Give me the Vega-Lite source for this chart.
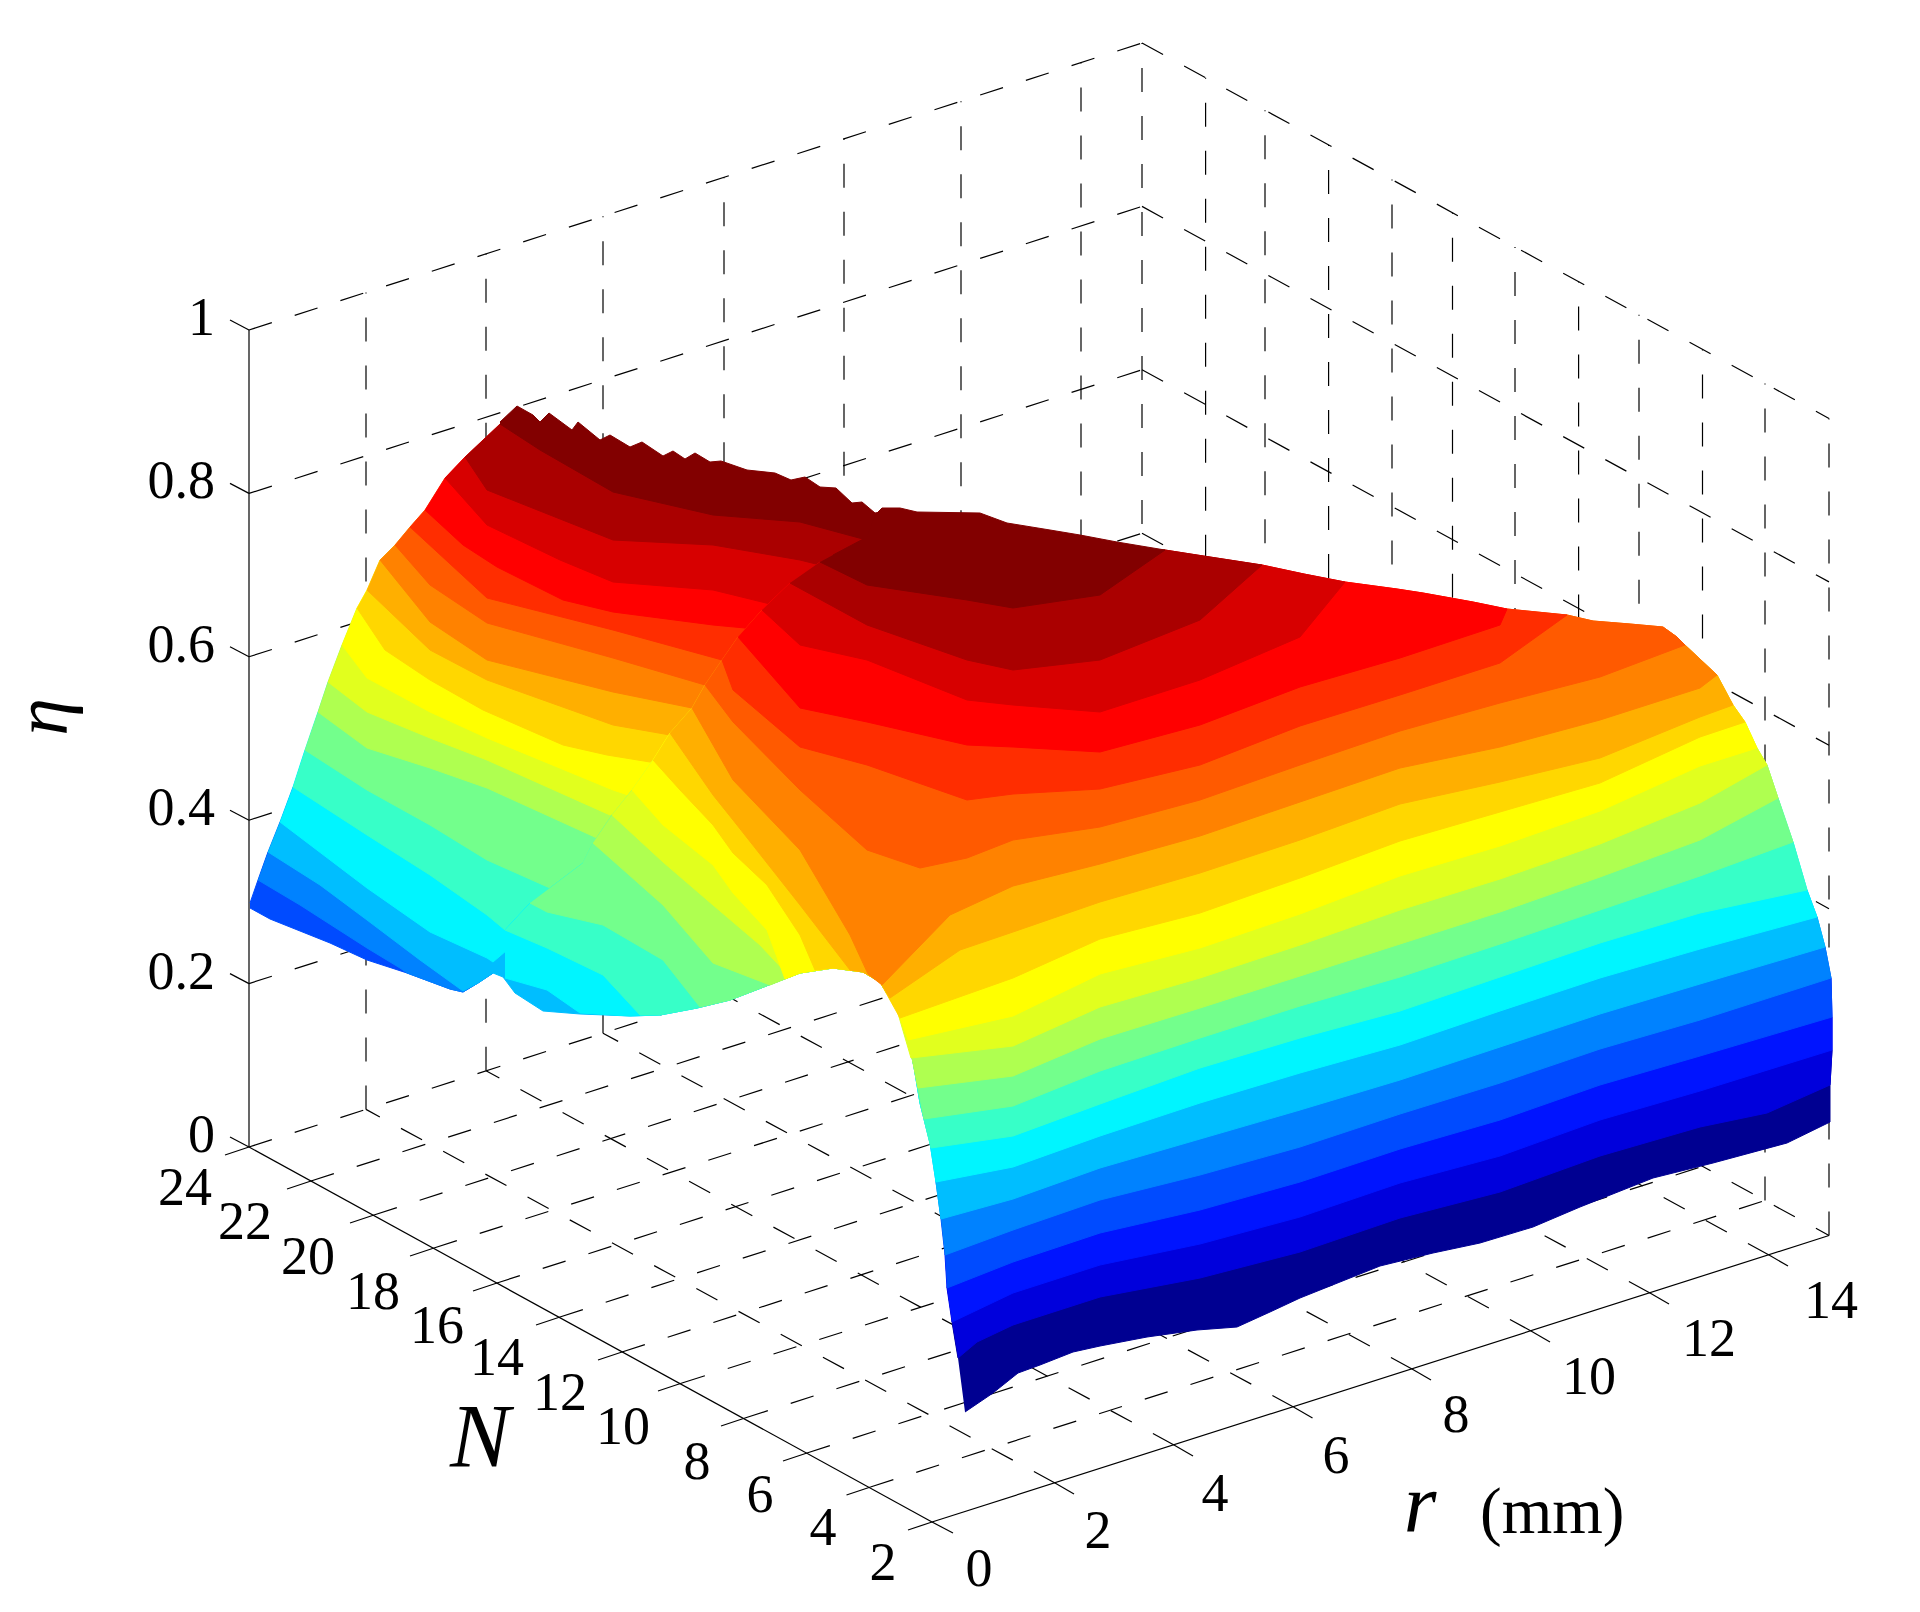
{"$schema":"https://vega.github.io/schema/vega-lite/v6.json","width":1920,"height":1612,"padding":0,"autosize":"none","background":"white","config":{"view":{"stroke":null}},
"datasets":{
"surface":[
{"f":"L","l":3,"x":250,"y":908},{"f":"L","l":3,"x":270,"y":919},{"f":"L","l":3,"x":330,"y":943},{"f":"L","l":3,"x":367,"y":960},{"f":"L","l":3,"x":407,"y":973},{"f":"L","l":3,"x":450,"y":989},{"f":"L","l":3,"x":463,"y":992},{"f":"L","l":3,"x":478,"y":983},{"f":"L","l":3,"x":493,"y":973},{"f":"L","l":3,"x":800,"y":700},{"f":"L","l":3,"x":860,"y":545},{"f":"L","l":3,"x":268,"y":852},{"f":"L","l":3,"x":258,"y":880},{"f":"L","l":3,"x":250,"y":903},
{"f":"L","l":4,"x":258,"y":880},{"f":"L","l":4,"x":300,"y":905},{"f":"L","l":4,"x":367,"y":948},{"f":"L","l":4,"x":400,"y":968},{"f":"L","l":4,"x":407,"y":973},{"f":"L","l":4,"x":450,"y":989},{"f":"L","l":4,"x":463,"y":992},{"f":"L","l":4,"x":478,"y":983},{"f":"L","l":4,"x":493,"y":973},{"f":"L","l":4,"x":800,"y":700},{"f":"L","l":4,"x":860,"y":545},{"f":"L","l":4,"x":280,"y":822},{"f":"L","l":4,"x":268,"y":852},
{"f":"L","l":5,"x":268,"y":852},{"f":"L","l":5,"x":320,"y":885},{"f":"L","l":5,"x":367,"y":920},{"f":"L","l":5,"x":420,"y":960},{"f":"L","l":5,"x":463,"y":991},{"f":"L","l":5,"x":478,"y":983},{"f":"L","l":5,"x":493,"y":973},{"f":"L","l":5,"x":800,"y":700},{"f":"L","l":5,"x":860,"y":545},{"f":"L","l":5,"x":293,"y":787},{"f":"L","l":5,"x":280,"y":822},
{"f":"L","l":6,"x":280,"y":822},{"f":"L","l":6,"x":367,"y":888},{"f":"L","l":6,"x":430,"y":932},{"f":"L","l":6,"x":487,"y":958},{"f":"L","l":6,"x":493,"y":962},{"f":"L","l":6,"x":800,"y":700},{"f":"L","l":6,"x":860,"y":545},{"f":"L","l":6,"x":305,"y":750},{"f":"L","l":6,"x":293,"y":787},
{"f":"L","l":7,"x":293,"y":787},{"f":"L","l":7,"x":367,"y":835},{"f":"L","l":7,"x":430,"y":875},{"f":"L","l":7,"x":487,"y":915},{"f":"L","l":7,"x":505,"y":930},{"f":"L","l":7,"x":800,"y":700},{"f":"L","l":7,"x":860,"y":545},{"f":"L","l":7,"x":318,"y":712},{"f":"L","l":7,"x":305,"y":750},
{"f":"L","l":8,"x":305,"y":750},{"f":"L","l":8,"x":367,"y":790},{"f":"L","l":8,"x":430,"y":825},{"f":"L","l":8,"x":487,"y":860},{"f":"L","l":8,"x":550,"y":888},{"f":"L","l":8,"x":800,"y":700},{"f":"L","l":8,"x":860,"y":545},{"f":"L","l":8,"x":328,"y":682},{"f":"L","l":8,"x":318,"y":712},
{"f":"L","l":9,"x":318,"y":712},{"f":"L","l":9,"x":367,"y":748},{"f":"L","l":9,"x":430,"y":768},{"f":"L","l":9,"x":487,"y":788},{"f":"L","l":9,"x":597,"y":838},{"f":"L","l":9,"x":800,"y":700},{"f":"L","l":9,"x":860,"y":545},{"f":"L","l":9,"x":342,"y":645},{"f":"L","l":9,"x":328,"y":682},
{"f":"L","l":10,"x":328,"y":682},{"f":"L","l":10,"x":367,"y":712},{"f":"L","l":10,"x":430,"y":738},{"f":"L","l":10,"x":487,"y":760},{"f":"L","l":10,"x":610,"y":815},{"f":"L","l":10,"x":800,"y":700},{"f":"L","l":10,"x":860,"y":545},{"f":"L","l":10,"x":357,"y":608},{"f":"L","l":10,"x":342,"y":645},
{"f":"L","l":11,"x":342,"y":645},{"f":"L","l":11,"x":367,"y":678},{"f":"L","l":11,"x":430,"y":712},{"f":"L","l":11,"x":487,"y":738},{"f":"L","l":11,"x":613,"y":790},{"f":"L","l":11,"x":628,"y":795},{"f":"L","l":11,"x":800,"y":700},{"f":"L","l":11,"x":860,"y":545},{"f":"L","l":11,"x":367,"y":590},{"f":"L","l":11,"x":357,"y":608},
{"f":"L","l":12,"x":357,"y":608},{"f":"L","l":12,"x":385,"y":650},{"f":"L","l":12,"x":430,"y":680},{"f":"L","l":12,"x":483,"y":710},{"f":"L","l":12,"x":563,"y":745},{"f":"L","l":12,"x":607,"y":755},{"f":"L","l":12,"x":650,"y":762},{"f":"L","l":12,"x":800,"y":700},{"f":"L","l":12,"x":860,"y":545},{"f":"L","l":12,"x":380,"y":560},{"f":"L","l":12,"x":367,"y":590},
{"f":"L","l":13,"x":367,"y":590},{"f":"L","l":13,"x":430,"y":650},{"f":"L","l":13,"x":487,"y":680},{"f":"L","l":13,"x":613,"y":725},{"f":"L","l":13,"x":670,"y":735},{"f":"L","l":13,"x":800,"y":700},{"f":"L","l":13,"x":860,"y":545},{"f":"L","l":13,"x":395,"y":545},{"f":"L","l":13,"x":380,"y":560},
{"f":"L","l":14,"x":380,"y":560},{"f":"L","l":14,"x":430,"y":622},{"f":"L","l":14,"x":487,"y":660},{"f":"L","l":14,"x":613,"y":692},{"f":"L","l":14,"x":692,"y":708},{"f":"L","l":14,"x":800,"y":700},{"f":"L","l":14,"x":860,"y":545},{"f":"L","l":14,"x":410,"y":527},{"f":"L","l":14,"x":395,"y":545},
{"f":"L","l":15,"x":395,"y":545},{"f":"L","l":15,"x":430,"y":585},{"f":"L","l":15,"x":487,"y":623},{"f":"L","l":15,"x":613,"y":658},{"f":"L","l":15,"x":705,"y":685},{"f":"L","l":15,"x":800,"y":700},{"f":"L","l":15,"x":860,"y":545},{"f":"L","l":15,"x":425,"y":510},{"f":"L","l":15,"x":410,"y":527},
{"f":"L","l":16,"x":410,"y":527},{"f":"L","l":16,"x":487,"y":598},{"f":"L","l":16,"x":613,"y":630},{"f":"L","l":16,"x":722,"y":660},{"f":"L","l":16,"x":800,"y":700},{"f":"L","l":16,"x":860,"y":545},{"f":"L","l":16,"x":445,"y":478},{"f":"L","l":16,"x":425,"y":510},
{"f":"L","l":17,"x":425,"y":510},{"f":"L","l":17,"x":463,"y":545},{"f":"L","l":17,"x":497,"y":567},{"f":"L","l":17,"x":563,"y":600},{"f":"L","l":17,"x":613,"y":612},{"f":"L","l":17,"x":713,"y":625},{"f":"L","l":17,"x":745,"y":628},{"f":"L","l":17,"x":800,"y":700},{"f":"L","l":17,"x":860,"y":545},{"f":"L","l":17,"x":465,"y":457},{"f":"L","l":17,"x":445,"y":478},
{"f":"L","l":18,"x":445,"y":478},{"f":"L","l":18,"x":487,"y":525},{"f":"L","l":18,"x":560,"y":560},{"f":"L","l":18,"x":613,"y":582},{"f":"L","l":18,"x":713,"y":590},{"f":"L","l":18,"x":770,"y":604},{"f":"L","l":18,"x":800,"y":700},{"f":"L","l":18,"x":860,"y":545},{"f":"L","l":18,"x":500,"y":424},{"f":"L","l":18,"x":465,"y":457},
{"f":"L","l":19,"x":465,"y":457},{"f":"L","l":19,"x":487,"y":490},{"f":"L","l":19,"x":613,"y":540},{"f":"L","l":19,"x":713,"y":545},{"f":"L","l":19,"x":800,"y":560},{"f":"L","l":19,"x":840,"y":570},{"f":"L","l":19,"x":885,"y":545},{"f":"L","l":19,"x":800,"y":510},{"f":"L","l":19,"x":713,"y":505},{"f":"L","l":19,"x":613,"y":482},{"f":"L","l":19,"x":540,"y":443},{"f":"L","l":19,"x":500,"y":424},
{"f":"L","l":20,"x":500,"y":424},{"f":"L","l":20,"x":540,"y":450},{"f":"L","l":20,"x":613,"y":492},{"f":"L","l":20,"x":713,"y":515},{"f":"L","l":20,"x":800,"y":522},{"f":"L","l":20,"x":885,"y":545},{"f":"L","l":20,"x":880,"y":512},{"f":"L","l":20,"x":875,"y":513},{"f":"L","l":20,"x":862,"y":502},{"f":"L","l":20,"x":852,"y":503},{"f":"L","l":20,"x":836,"y":488},{"f":"L","l":20,"x":820,"y":487},{"f":"L","l":20,"x":805,"y":477},{"f":"L","l":20,"x":791,"y":480},{"f":"L","l":20,"x":775,"y":473},{"f":"L","l":20,"x":747,"y":470},{"f":"L","l":20,"x":721,"y":461},{"f":"L","l":20,"x":710,"y":462},{"f":"L","l":20,"x":695,"y":453},{"f":"L","l":20,"x":685,"y":459},{"f":"L","l":20,"x":673,"y":451},{"f":"L","l":20,"x":663,"y":456},{"f":"L","l":20,"x":642,"y":442},{"f":"L","l":20,"x":630,"y":447},{"f":"L","l":20,"x":610,"y":435},{"f":"L","l":20,"x":600,"y":440},{"f":"L","l":20,"x":578,"y":422},{"f":"L","l":20,"x":572,"y":430},{"f":"L","l":20,"x":549,"y":413},{"f":"L","l":20,"x":540,"y":422},{"f":"L","l":20,"x":533,"y":415},{"f":"L","l":20,"x":517,"y":406},{"f":"L","l":20,"x":500,"y":422},
{"f":"R","l":0,"x":965,"y":1412},{"f":"R","l":0,"x":993,"y":1393},{"f":"R","l":0,"x":1018,"y":1373},{"f":"R","l":0,"x":1040,"y":1365},{"f":"R","l":0,"x":1073,"y":1352},{"f":"R","l":0,"x":1100,"y":1346},{"f":"R","l":0,"x":1147,"y":1337},{"f":"R","l":0,"x":1197,"y":1330},{"f":"R","l":0,"x":1237,"y":1327},{"f":"R","l":0,"x":1270,"y":1312},{"f":"R","l":0,"x":1300,"y":1298},{"f":"R","l":0,"x":1380,"y":1266},{"f":"R","l":0,"x":1433,"y":1253},{"f":"R","l":0,"x":1480,"y":1243},{"f":"R","l":0,"x":1533,"y":1227},{"f":"R","l":0,"x":1580,"y":1207},{"f":"R","l":0,"x":1653,"y":1178},{"f":"R","l":0,"x":1713,"y":1163},{"f":"R","l":0,"x":1787,"y":1143},{"f":"R","l":0,"x":1830,"y":1122},{"f":"R","l":0,"x":1830,"y":1085},{"f":"R","l":0,"x":1832,"y":1050},{"f":"R","l":0,"x":1000,"y":900},{"f":"R","l":0,"x":952,"y":1322},{"f":"R","l":0,"x":958,"y":1358},
{"f":"R","l":1,"x":958,"y":1358},{"f":"R","l":1,"x":977,"y":1342},{"f":"R","l":1,"x":1013,"y":1325},{"f":"R","l":1,"x":1100,"y":1297},{"f":"R","l":1,"x":1200,"y":1278},{"f":"R","l":1,"x":1300,"y":1252},{"f":"R","l":1,"x":1400,"y":1218},{"f":"R","l":1,"x":1500,"y":1192},{"f":"R","l":1,"x":1600,"y":1156},{"f":"R","l":1,"x":1700,"y":1127},{"f":"R","l":1,"x":1767,"y":1113},{"f":"R","l":1,"x":1830,"y":1085},{"f":"R","l":1,"x":1832,"y":1050},{"f":"R","l":1,"x":1832,"y":1017},{"f":"R","l":1,"x":1000,"y":900},{"f":"R","l":1,"x":947,"y":1288},{"f":"R","l":1,"x":952,"y":1322},
{"f":"R","l":2,"x":952,"y":1322},{"f":"R","l":2,"x":1013,"y":1293},{"f":"R","l":2,"x":1100,"y":1265},{"f":"R","l":2,"x":1200,"y":1244},{"f":"R","l":2,"x":1300,"y":1217},{"f":"R","l":2,"x":1400,"y":1183},{"f":"R","l":2,"x":1500,"y":1156},{"f":"R","l":2,"x":1600,"y":1120},{"f":"R","l":2,"x":1700,"y":1091},{"f":"R","l":2,"x":1832,"y":1050},{"f":"R","l":2,"x":1832,"y":1017},{"f":"R","l":2,"x":1831,"y":978},{"f":"R","l":2,"x":1000,"y":900},{"f":"R","l":2,"x":945,"y":1255},{"f":"R","l":2,"x":947,"y":1288},
{"f":"R","l":3,"x":947,"y":1288},{"f":"R","l":3,"x":1013,"y":1262},{"f":"R","l":3,"x":1100,"y":1233},{"f":"R","l":3,"x":1200,"y":1210},{"f":"R","l":3,"x":1300,"y":1182},{"f":"R","l":3,"x":1400,"y":1149},{"f":"R","l":3,"x":1500,"y":1120},{"f":"R","l":3,"x":1600,"y":1085},{"f":"R","l":3,"x":1700,"y":1056},{"f":"R","l":3,"x":1832,"y":1017},{"f":"R","l":3,"x":1831,"y":978},{"f":"R","l":3,"x":1825,"y":947},{"f":"R","l":3,"x":1000,"y":900},{"f":"R","l":3,"x":941,"y":1219},{"f":"R","l":3,"x":945,"y":1255},
{"f":"R","l":4,"x":945,"y":1255},{"f":"R","l":4,"x":1013,"y":1230},{"f":"R","l":4,"x":1100,"y":1200},{"f":"R","l":4,"x":1200,"y":1175},{"f":"R","l":4,"x":1300,"y":1147},{"f":"R","l":4,"x":1400,"y":1114},{"f":"R","l":4,"x":1500,"y":1083},{"f":"R","l":4,"x":1600,"y":1049},{"f":"R","l":4,"x":1700,"y":1020},{"f":"R","l":4,"x":1831,"y":978},{"f":"R","l":4,"x":1825,"y":947},{"f":"R","l":4,"x":1817,"y":917},{"f":"R","l":4,"x":1000,"y":900},{"f":"R","l":4,"x":936,"y":1182},{"f":"R","l":4,"x":941,"y":1219},
{"f":"R","l":5,"x":493,"y":973},{"f":"R","l":5,"x":503,"y":977},{"f":"R","l":5,"x":515,"y":993},{"f":"R","l":5,"x":543,"y":1011},{"f":"R","l":5,"x":580,"y":1014},{"f":"R","l":5,"x":630,"y":1016},{"f":"R","l":5,"x":660,"y":1015},{"f":"R","l":5,"x":697,"y":1008},{"f":"R","l":5,"x":730,"y":1000},{"f":"R","l":5,"x":800,"y":973},{"f":"R","l":5,"x":833,"y":968},{"f":"R","l":5,"x":863,"y":972},{"f":"R","l":5,"x":880,"y":982},{"f":"R","l":5,"x":897,"y":1010},{"f":"R","l":5,"x":908,"y":1038},{"f":"R","l":5,"x":914,"y":1067},{"f":"R","l":5,"x":920,"y":1103},{"f":"R","l":5,"x":930,"y":1143},{"f":"R","l":5,"x":936,"y":1182},{"f":"R","l":5,"x":941,"y":1219},{"f":"R","l":5,"x":1013,"y":1199},{"f":"R","l":5,"x":1100,"y":1168},{"f":"R","l":5,"x":1200,"y":1139},{"f":"R","l":5,"x":1300,"y":1110},{"f":"R","l":5,"x":1400,"y":1080},{"f":"R","l":5,"x":1500,"y":1047},{"f":"R","l":5,"x":1600,"y":1014},{"f":"R","l":5,"x":1700,"y":984},{"f":"R","l":5,"x":1825,"y":947},{"f":"R","l":5,"x":1817,"y":917},{"f":"R","l":5,"x":1807,"y":890},{"f":"R","l":5,"x":1000,"y":680},{"f":"R","l":5,"x":510,"y":950},
{"f":"R","l":6,"x":505,"y":978},{"f":"R","l":6,"x":547,"y":990},{"f":"R","l":6,"x":580,"y":1013},{"f":"R","l":6,"x":630,"y":1016},{"f":"R","l":6,"x":660,"y":1015},{"f":"R","l":6,"x":697,"y":1008},{"f":"R","l":6,"x":730,"y":1000},{"f":"R","l":6,"x":800,"y":973},{"f":"R","l":6,"x":833,"y":968},{"f":"R","l":6,"x":863,"y":972},{"f":"R","l":6,"x":880,"y":982},{"f":"R","l":6,"x":897,"y":1010},{"f":"R","l":6,"x":908,"y":1038},{"f":"R","l":6,"x":914,"y":1067},{"f":"R","l":6,"x":920,"y":1103},{"f":"R","l":6,"x":930,"y":1143},{"f":"R","l":6,"x":936,"y":1182},{"f":"R","l":6,"x":1013,"y":1167},{"f":"R","l":6,"x":1100,"y":1136},{"f":"R","l":6,"x":1200,"y":1103},{"f":"R","l":6,"x":1300,"y":1073},{"f":"R","l":6,"x":1400,"y":1045},{"f":"R","l":6,"x":1500,"y":1011},{"f":"R","l":6,"x":1600,"y":978},{"f":"R","l":6,"x":1700,"y":949},{"f":"R","l":6,"x":1817,"y":917},{"f":"R","l":6,"x":1807,"y":890},{"f":"R","l":6,"x":1793,"y":842},{"f":"R","l":6,"x":1000,"y":680},{"f":"R","l":6,"x":530,"y":903},{"f":"R","l":6,"x":505,"y":930},
{"f":"R","l":7,"x":505,"y":930},{"f":"R","l":7,"x":547,"y":948},{"f":"R","l":7,"x":603,"y":975},{"f":"R","l":7,"x":640,"y":1015},{"f":"R","l":7,"x":660,"y":1015},{"f":"R","l":7,"x":697,"y":1008},{"f":"R","l":7,"x":730,"y":1000},{"f":"R","l":7,"x":800,"y":973},{"f":"R","l":7,"x":833,"y":968},{"f":"R","l":7,"x":863,"y":972},{"f":"R","l":7,"x":880,"y":982},{"f":"R","l":7,"x":897,"y":1010},{"f":"R","l":7,"x":908,"y":1038},{"f":"R","l":7,"x":914,"y":1067},{"f":"R","l":7,"x":920,"y":1103},{"f":"R","l":7,"x":931,"y":1148},{"f":"R","l":7,"x":1013,"y":1136},{"f":"R","l":7,"x":1100,"y":1104},{"f":"R","l":7,"x":1200,"y":1068},{"f":"R","l":7,"x":1300,"y":1038},{"f":"R","l":7,"x":1400,"y":1011},{"f":"R","l":7,"x":1500,"y":977},{"f":"R","l":7,"x":1600,"y":943},{"f":"R","l":7,"x":1700,"y":913},{"f":"R","l":7,"x":1807,"y":890},{"f":"R","l":7,"x":1793,"y":842},{"f":"R","l":7,"x":1778,"y":798},{"f":"R","l":7,"x":1000,"y":680},{"f":"R","l":7,"x":593,"y":843},{"f":"R","l":7,"x":583,"y":863},{"f":"R","l":7,"x":530,"y":903},
{"f":"R","l":8,"x":530,"y":903},{"f":"R","l":8,"x":547,"y":912},{"f":"R","l":8,"x":603,"y":925},{"f":"R","l":8,"x":663,"y":960},{"f":"R","l":8,"x":700,"y":1007},{"f":"R","l":8,"x":730,"y":1000},{"f":"R","l":8,"x":800,"y":973},{"f":"R","l":8,"x":833,"y":968},{"f":"R","l":8,"x":863,"y":972},{"f":"R","l":8,"x":880,"y":982},{"f":"R","l":8,"x":897,"y":1010},{"f":"R","l":8,"x":908,"y":1038},{"f":"R","l":8,"x":914,"y":1067},{"f":"R","l":8,"x":924,"y":1119},{"f":"R","l":8,"x":1013,"y":1106},{"f":"R","l":8,"x":1100,"y":1071},{"f":"R","l":8,"x":1200,"y":1038},{"f":"R","l":8,"x":1300,"y":1006},{"f":"R","l":8,"x":1400,"y":977},{"f":"R","l":8,"x":1500,"y":944},{"f":"R","l":8,"x":1600,"y":910},{"f":"R","l":8,"x":1700,"y":876},{"f":"R","l":8,"x":1793,"y":842},{"f":"R","l":8,"x":1778,"y":798},{"f":"R","l":8,"x":1767,"y":765},{"f":"R","l":8,"x":1000,"y":680},{"f":"R","l":8,"x":612,"y":815},{"f":"R","l":8,"x":593,"y":843},{"f":"R","l":8,"x":583,"y":863},
{"f":"R","l":9,"x":593,"y":843},{"f":"R","l":9,"x":663,"y":905},{"f":"R","l":9,"x":713,"y":963},{"f":"R","l":9,"x":770,"y":985},{"f":"R","l":9,"x":800,"y":973},{"f":"R","l":9,"x":833,"y":968},{"f":"R","l":9,"x":863,"y":972},{"f":"R","l":9,"x":880,"y":982},{"f":"R","l":9,"x":897,"y":1010},{"f":"R","l":9,"x":908,"y":1038},{"f":"R","l":9,"x":918,"y":1088},{"f":"R","l":9,"x":1013,"y":1076},{"f":"R","l":9,"x":1100,"y":1039},{"f":"R","l":9,"x":1200,"y":1008},{"f":"R","l":9,"x":1300,"y":976},{"f":"R","l":9,"x":1400,"y":944},{"f":"R","l":9,"x":1500,"y":912},{"f":"R","l":9,"x":1600,"y":877},{"f":"R","l":9,"x":1700,"y":840},{"f":"R","l":9,"x":1778,"y":798},{"f":"R","l":9,"x":1767,"y":765},{"f":"R","l":9,"x":1757,"y":748},{"f":"R","l":9,"x":1000,"y":680},{"f":"R","l":9,"x":632,"y":790},{"f":"R","l":9,"x":612,"y":815},
{"f":"R","l":10,"x":612,"y":815},{"f":"R","l":10,"x":663,"y":862},{"f":"R","l":10,"x":713,"y":905},{"f":"R","l":10,"x":760,"y":945},{"f":"R","l":10,"x":790,"y":977},{"f":"R","l":10,"x":800,"y":973},{"f":"R","l":10,"x":833,"y":968},{"f":"R","l":10,"x":863,"y":972},{"f":"R","l":10,"x":880,"y":982},{"f":"R","l":10,"x":897,"y":1010},{"f":"R","l":10,"x":911,"y":1058},{"f":"R","l":10,"x":1013,"y":1046},{"f":"R","l":10,"x":1100,"y":1007},{"f":"R","l":10,"x":1200,"y":978},{"f":"R","l":10,"x":1300,"y":945},{"f":"R","l":10,"x":1400,"y":910},{"f":"R","l":10,"x":1500,"y":879},{"f":"R","l":10,"x":1600,"y":844},{"f":"R","l":10,"x":1700,"y":803},{"f":"R","l":10,"x":1767,"y":765},{"f":"R","l":10,"x":1757,"y":748},{"f":"R","l":10,"x":1745,"y":722},{"f":"R","l":10,"x":1000,"y":680},{"f":"R","l":10,"x":653,"y":760},{"f":"R","l":10,"x":632,"y":790},
{"f":"R","l":11,"x":632,"y":790},{"f":"R","l":11,"x":663,"y":825},{"f":"R","l":11,"x":713,"y":865},{"f":"R","l":11,"x":733,"y":893},{"f":"R","l":11,"x":767,"y":930},{"f":"R","l":11,"x":785,"y":979},{"f":"R","l":11,"x":800,"y":973},{"f":"R","l":11,"x":833,"y":968},{"f":"R","l":11,"x":863,"y":972},{"f":"R","l":11,"x":880,"y":982},{"f":"R","l":11,"x":897,"y":1010},{"f":"R","l":11,"x":908,"y":1040},{"f":"R","l":11,"x":1013,"y":1016},{"f":"R","l":11,"x":1100,"y":974},{"f":"R","l":11,"x":1200,"y":948},{"f":"R","l":11,"x":1300,"y":914},{"f":"R","l":11,"x":1400,"y":876},{"f":"R","l":11,"x":1500,"y":846},{"f":"R","l":11,"x":1600,"y":811},{"f":"R","l":11,"x":1700,"y":766},{"f":"R","l":11,"x":1757,"y":748},{"f":"R","l":11,"x":1745,"y":722},{"f":"R","l":11,"x":1733,"y":705},{"f":"R","l":11,"x":1000,"y":680},{"f":"R","l":11,"x":670,"y":733},{"f":"R","l":11,"x":653,"y":760},
{"f":"R","l":12,"x":653,"y":760},{"f":"R","l":12,"x":680,"y":790},{"f":"R","l":12,"x":713,"y":825},{"f":"R","l":12,"x":733,"y":853},{"f":"R","l":12,"x":767,"y":885},{"f":"R","l":12,"x":800,"y":935},{"f":"R","l":12,"x":815,"y":970},{"f":"R","l":12,"x":833,"y":968},{"f":"R","l":12,"x":863,"y":972},{"f":"R","l":12,"x":880,"y":982},{"f":"R","l":12,"x":900,"y":1018},{"f":"R","l":12,"x":1013,"y":978},{"f":"R","l":12,"x":1100,"y":939},{"f":"R","l":12,"x":1200,"y":913},{"f":"R","l":12,"x":1300,"y":878},{"f":"R","l":12,"x":1400,"y":841},{"f":"R","l":12,"x":1500,"y":812},{"f":"R","l":12,"x":1600,"y":783},{"f":"R","l":12,"x":1700,"y":737},{"f":"R","l":12,"x":1745,"y":722},{"f":"R","l":12,"x":1733,"y":705},{"f":"R","l":12,"x":1717,"y":675},{"f":"R","l":12,"x":1000,"y":680},{"f":"R","l":12,"x":692,"y":708},{"f":"R","l":12,"x":670,"y":733},
{"f":"R","l":13,"x":670,"y":733},{"f":"R","l":13,"x":713,"y":795},{"f":"R","l":13,"x":733,"y":820},{"f":"R","l":13,"x":800,"y":905},{"f":"R","l":13,"x":850,"y":970},{"f":"R","l":13,"x":863,"y":972},{"f":"R","l":13,"x":880,"y":982},{"f":"R","l":13,"x":890,"y":998},{"f":"R","l":13,"x":960,"y":950},{"f":"R","l":13,"x":1013,"y":932},{"f":"R","l":13,"x":1100,"y":902},{"f":"R","l":13,"x":1200,"y":873},{"f":"R","l":13,"x":1300,"y":840},{"f":"R","l":13,"x":1400,"y":804},{"f":"R","l":13,"x":1500,"y":782},{"f":"R","l":13,"x":1600,"y":758},{"f":"R","l":13,"x":1700,"y":717},{"f":"R","l":13,"x":1733,"y":705},{"f":"R","l":13,"x":1717,"y":675},{"f":"R","l":13,"x":1685,"y":645},{"f":"R","l":13,"x":1000,"y":680},{"f":"R","l":13,"x":705,"y":685},{"f":"R","l":13,"x":692,"y":708},
{"f":"R","l":14,"x":692,"y":708},{"f":"R","l":14,"x":733,"y":780},{"f":"R","l":14,"x":800,"y":850},{"f":"R","l":14,"x":850,"y":935},{"f":"R","l":14,"x":868,"y":974},{"f":"R","l":14,"x":882,"y":985},{"f":"R","l":14,"x":950,"y":915},{"f":"R","l":14,"x":1013,"y":886},{"f":"R","l":14,"x":1100,"y":864},{"f":"R","l":14,"x":1200,"y":836},{"f":"R","l":14,"x":1300,"y":802},{"f":"R","l":14,"x":1400,"y":768},{"f":"R","l":14,"x":1500,"y":747},{"f":"R","l":14,"x":1600,"y":720},{"f":"R","l":14,"x":1700,"y":688},{"f":"R","l":14,"x":1717,"y":675},{"f":"R","l":14,"x":1685,"y":645},{"f":"R","l":14,"x":1677,"y":637},{"f":"R","l":14,"x":1663,"y":627},{"f":"R","l":14,"x":1630,"y":624},{"f":"R","l":14,"x":1593,"y":621},{"f":"R","l":14,"x":1567,"y":615},{"f":"R","l":14,"x":1000,"y":680},{"f":"R","l":14,"x":722,"y":660},{"f":"R","l":14,"x":705,"y":685},
{"f":"R","l":15,"x":705,"y":685},{"f":"R","l":15,"x":733,"y":722},{"f":"R","l":15,"x":800,"y":790},{"f":"R","l":15,"x":867,"y":850},{"f":"R","l":15,"x":920,"y":868},{"f":"R","l":15,"x":967,"y":858},{"f":"R","l":15,"x":1013,"y":840},{"f":"R","l":15,"x":1100,"y":827},{"f":"R","l":15,"x":1200,"y":800},{"f":"R","l":15,"x":1300,"y":765},{"f":"R","l":15,"x":1400,"y":731},{"f":"R","l":15,"x":1500,"y":703},{"f":"R","l":15,"x":1600,"y":677},{"f":"R","l":15,"x":1685,"y":645},{"f":"R","l":15,"x":1677,"y":637},{"f":"R","l":15,"x":1663,"y":627},{"f":"R","l":15,"x":1630,"y":624},{"f":"R","l":15,"x":1593,"y":621},{"f":"R","l":15,"x":1567,"y":615},{"f":"R","l":15,"x":1537,"y":612},{"f":"R","l":15,"x":1507,"y":609},{"f":"R","l":15,"x":1000,"y":680},{"f":"R","l":15,"x":738,"y":637},{"f":"R","l":15,"x":722,"y":660},
{"f":"R","l":16,"x":722,"y":660},{"f":"R","l":16,"x":733,"y":690},{"f":"R","l":16,"x":800,"y":747},{"f":"R","l":16,"x":867,"y":765},{"f":"R","l":16,"x":967,"y":800},{"f":"R","l":16,"x":1013,"y":794},{"f":"R","l":16,"x":1100,"y":789},{"f":"R","l":16,"x":1200,"y":765},{"f":"R","l":16,"x":1300,"y":726},{"f":"R","l":16,"x":1400,"y":695},{"f":"R","l":16,"x":1500,"y":663},{"f":"R","l":16,"x":1567,"y":615},{"f":"R","l":16,"x":1537,"y":612},{"f":"R","l":16,"x":1507,"y":609},{"f":"R","l":16,"x":1473,"y":602},{"f":"R","l":16,"x":1423,"y":593},{"f":"R","l":16,"x":1397,"y":589},{"f":"R","l":16,"x":1345,"y":582},{"f":"R","l":16,"x":1000,"y":680},{"f":"R","l":16,"x":762,"y":610},{"f":"R","l":16,"x":738,"y":637},
{"f":"R","l":17,"x":738,"y":637},{"f":"R","l":17,"x":800,"y":708},{"f":"R","l":17,"x":867,"y":722},{"f":"R","l":17,"x":967,"y":745},{"f":"R","l":17,"x":1013,"y":747},{"f":"R","l":17,"x":1100,"y":752},{"f":"R","l":17,"x":1200,"y":725},{"f":"R","l":17,"x":1300,"y":687},{"f":"R","l":17,"x":1400,"y":658},{"f":"R","l":17,"x":1500,"y":625},{"f":"R","l":17,"x":1507,"y":609},{"f":"R","l":17,"x":1473,"y":602},{"f":"R","l":17,"x":1423,"y":593},{"f":"R","l":17,"x":1397,"y":589},{"f":"R","l":17,"x":1345,"y":582},{"f":"R","l":17,"x":1304,"y":574},{"f":"R","l":17,"x":1262,"y":565},{"f":"R","l":17,"x":790,"y":583},{"f":"R","l":17,"x":762,"y":610},
{"f":"R","l":18,"x":762,"y":610},{"f":"R","l":18,"x":800,"y":645},{"f":"R","l":18,"x":867,"y":660},{"f":"R","l":18,"x":967,"y":700},{"f":"R","l":18,"x":1013,"y":705},{"f":"R","l":18,"x":1100,"y":712},{"f":"R","l":18,"x":1200,"y":680},{"f":"R","l":18,"x":1300,"y":637},{"f":"R","l":18,"x":1345,"y":582},{"f":"R","l":18,"x":1304,"y":574},{"f":"R","l":18,"x":1262,"y":565},{"f":"R","l":18,"x":1197,"y":555},{"f":"R","l":18,"x":1165,"y":550},{"f":"R","l":18,"x":820,"y":562},{"f":"R","l":18,"x":790,"y":583},
{"f":"R","l":19,"x":790,"y":583},{"f":"R","l":19,"x":867,"y":625},{"f":"R","l":19,"x":967,"y":660},{"f":"R","l":19,"x":1013,"y":670},{"f":"R","l":19,"x":1100,"y":660},{"f":"R","l":19,"x":1200,"y":620},{"f":"R","l":19,"x":1262,"y":565},{"f":"R","l":19,"x":1197,"y":555},{"f":"R","l":19,"x":1165,"y":550},{"f":"R","l":19,"x":820,"y":562},
{"f":"R","l":20,"x":820,"y":562},{"f":"R","l":20,"x":867,"y":585},{"f":"R","l":20,"x":967,"y":600},{"f":"R","l":20,"x":1013,"y":608},{"f":"R","l":20,"x":1100,"y":595},{"f":"R","l":20,"x":1165,"y":550},{"f":"R","l":20,"x":1117,"y":542},{"f":"R","l":20,"x":1080,"y":535},{"f":"R","l":20,"x":1050,"y":530},{"f":"R","l":20,"x":1007,"y":523},{"f":"R","l":20,"x":980,"y":513},{"f":"R","l":20,"x":917,"y":512},{"f":"R","l":20,"x":900,"y":508},{"f":"R","l":20,"x":882,"y":508},{"f":"R","l":20,"x":875,"y":515},{"f":"R","l":20,"x":867,"y":537},{"f":"R","l":20,"x":833,"y":555}
],
"grid":[
{"x":366,"y":1109.4,"x2":366,"y2":292.4},{"x":486,"y":1070.8,"x2":486,"y2":253.8},{"x":603,"y":1033.2,"x2":603,"y2":216.2},{"x":724,"y":994.3,"x2":724,"y2":177.3},{"x":844,"y":955.8,"x2":844,"y2":138.8},{"x":961,"y":918.2,"x2":961,"y2":101.2},{"x":1081,"y":879.6,"x2":1081,"y2":62.6},{"x":1142,"y":860,"x2":1142,"y2":43},
{"x":1829,"y":1235.5,"x2":1829,"y2":418.5},{"x":1765,"y":1200.5,"x2":1765,"y2":383.5},{"x":1702.5,"y":1166.4,"x2":1702.5,"y2":349.4},{"x":1639,"y":1131.7,"x2":1639,"y2":314.7},{"x":1578.6,"y":1098.6,"x2":1578.6,"y2":281.6},{"x":1515,"y":1063.9,"x2":1515,"y2":246.9},{"x":1452.5,"y":1029.7,"x2":1452.5,"y2":212.7},{"x":1392,"y":996.6,"x2":1392,"y2":179.6},{"x":1328.6,"y":962,"x2":1328.6,"y2":145},{"x":1265,"y":927.2,"x2":1265,"y2":110.2},{"x":1205.6,"y":894.8,"x2":1205.6,"y2":77.8},
{"x":249,"y":1147,"x2":1142,"y2":860},{"x":249,"y":983.6,"x2":1142,"y2":696.6},{"x":249,"y":820.2,"x2":1142,"y2":533.2},{"x":249,"y":656.8,"x2":1142,"y2":369.8},{"x":249,"y":493.4,"x2":1142,"y2":206.4},{"x":249,"y":330,"x2":1142,"y2":43},
{"x":1142,"y":860,"x2":1829,"y2":1235.5},{"x":1142,"y":696.6,"x2":1829,"y2":1072.1},{"x":1142,"y":533.2,"x2":1829,"y2":908.7},{"x":1142,"y":369.8,"x2":1829,"y2":745.3},{"x":1142,"y":206.4,"x2":1829,"y2":581.9},{"x":1142,"y":43,"x2":1829,"y2":418.5},
{"x":1055,"y":1483,"x2":366,"y2":1109.4},{"x":1174,"y":1445,"x2":486,"y2":1070.8},{"x":1293.5,"y":1407,"x2":603,"y2":1033.2},{"x":1412,"y":1369,"x2":724,"y2":994.3},{"x":1531,"y":1331,"x2":844,"y2":955.8},{"x":1650,"y":1293,"x2":961,"y2":918.2},{"x":1769,"y":1255,"x2":1081,"y2":879.6},
{"x":870.5,"y":1487,"x2":1765,"y2":1200.5},{"x":807,"y":1453,"x2":1702.5,"y2":1166.4},{"x":745,"y":1418,"x2":1639,"y2":1131.7},{"x":682,"y":1383,"x2":1578.6,"y2":1098.6},{"x":622,"y":1352,"x2":1515,"y2":1063.9},{"x":560,"y":1317,"x2":1452.5,"y2":1029.7},{"x":497,"y":1283,"x2":1392,"y2":996.6},{"x":434,"y":1248,"x2":1328.6,"y2":962},{"x":374,"y":1215,"x2":1265,"y2":927.2},{"x":311,"y":1181,"x2":1205.6,"y2":894.8}
],
"axes":[
{"x":249,"y":330,"x2":249,"y2":1147},{"x":932,"y":1522,"x2":1829,"y2":1235.5},{"x":932,"y":1522,"x2":249,"y2":1147},
{"x":249,"y":1147,"x2":230,"y2":1137},{"x":249,"y":983.6,"x2":230,"y2":973.6},{"x":249,"y":820.2,"x2":230,"y2":810.2},{"x":249,"y":656.8,"x2":230,"y2":646.8},{"x":249,"y":493.4,"x2":230,"y2":483.4},{"x":249,"y":330,"x2":230,"y2":320},
{"x":932,"y":1522,"x2":908,"y2":1530},{"x":870.5,"y":1487,"x2":846.5,"y2":1495},{"x":807,"y":1453,"x2":783,"y2":1461},{"x":745,"y":1418,"x2":721,"y2":1426},{"x":682,"y":1383,"x2":658,"y2":1391},{"x":622,"y":1352,"x2":598,"y2":1360},{"x":560,"y":1317,"x2":536,"y2":1325},{"x":497,"y":1283,"x2":473,"y2":1291},{"x":434,"y":1248,"x2":410,"y2":1256},{"x":374,"y":1215,"x2":350,"y2":1223},{"x":311,"y":1181,"x2":287,"y2":1189},{"x":249,"y":1147,"x2":225,"y2":1155},
{"x":932,"y":1522,"x2":953,"y2":1533},{"x":1055,"y":1483,"x2":1074,"y2":1494},{"x":1174,"y":1445,"x2":1193,"y2":1456},{"x":1293.5,"y":1407,"x2":1312.5,"y2":1418},{"x":1412,"y":1369,"x2":1431,"y2":1380},{"x":1531,"y":1331,"x2":1550,"y2":1342},{"x":1650,"y":1293,"x2":1669,"y2":1304},{"x":1769,"y":1255,"x2":1788,"y2":1266}
],
"etaTicks":[{"t":"0","x":215,"y":1152},{"t":"0.2","x":215,"y":989},{"t":"0.4","x":215,"y":825},{"t":"0.6","x":215,"y":662},{"t":"0.8","x":215,"y":498},{"t":"1","x":215,"y":335}],
"nrTicks":[{"t":"24","x":185,"y":1205},{"t":"22","x":245,"y":1239},{"t":"20","x":308,"y":1274},{"t":"18","x":373,"y":1309},{"t":"16","x":437,"y":1343},{"t":"14","x":497,"y":1375},{"t":"12","x":560,"y":1410},{"t":"10","x":623,"y":1444},{"t":"8","x":697,"y":1479},{"t":"6","x":760,"y":1512},{"t":"4","x":823,"y":1545},{"t":"2","x":883,"y":1580},
{"t":"0","x":979,"y":1586},{"t":"2","x":1098,"y":1548},{"t":"4","x":1215,"y":1511},{"t":"6","x":1336,"y":1473},{"t":"8","x":1456,"y":1432},{"t":"10","x":1589,"y":1394},{"t":"12","x":1709,"y":1356},{"t":"14","x":1831,"y":1318}]
},
"layer":[
{"data":{"name":"grid"},"mark":{"type":"rule","color":"#000000","strokeWidth":1.2,"strokeDash":[24,24]},"encoding":{"x":{"field":"x","type":"quantitative","scale":{"domain":[0,1920],"nice":false,"zero":false},"axis":null},"y":{"field":"y","type":"quantitative","scale":{"domain":[1612,0],"nice":false,"zero":false},"axis":null},"x2":{"field":"x2"},"y2":{"field":"y2"}}},
{"data":{"name":"axes"},"mark":{"type":"rule","color":"#000000","strokeWidth":1.2},"encoding":{"x":{"field":"x","type":"quantitative"},"y":{"field":"y","type":"quantitative"},"x2":{"field":"x2"},"y2":{"field":"y2"}}},
{"data":{"name":"surface"},"mark":{"type":"line","strokeWidth":1,"strokeJoin":"round"},"encoding":{"x":{"field":"x","type":"quantitative"},"y":{"field":"y","type":"quantitative"},"detail":[{"field":"f"},{"field":"l"}],"order":{"value":null},
"fill":{"field":"l","type":"ordinal","legend":null,"scale":{"domain":[0,1,2,3,4,5,6,7,8,9,10,11,12,13,14,15,16,17,18,19,20],"range":["#000091","#0000dc","#0014ff","#004bff","#0082ff","#00beff","#00f5ff","#37ffc8","#73ff8c","#afff50","#e1ff1e","#ffff00","#ffd700","#ffaf00","#ff8200","#ff5a00","#ff2d00","#ff0000","#d70000","#aa0000","#820000"]}},
"stroke":{"field":"l","type":"ordinal","legend":null,"scale":{"domain":[0,1,2,3,4,5,6,7,8,9,10,11,12,13,14,15,16,17,18,19,20],"range":["#000091","#0000dc","#0014ff","#004bff","#0082ff","#00beff","#00f5ff","#37ffc8","#73ff8c","#afff50","#e1ff1e","#ffff00","#ffd700","#ffaf00","#ff8200","#ff5a00","#ff2d00","#ff0000","#d70000","#aa0000","#820000"]}}}},
{"data":{"name":"etaTicks"},"mark":{"type":"text","font":"Liberation Serif","fontSize":54,"align":"right","baseline":"alphabetic"},"encoding":{"x":{"field":"x","type":"quantitative"},"y":{"field":"y","type":"quantitative"},"text":{"field":"t"}}},
{"data":{"name":"nrTicks"},"mark":{"type":"text","font":"Liberation Serif","fontSize":54,"align":"center","baseline":"alphabetic"},"encoding":{"x":{"field":"x","type":"quantitative"},"y":{"field":"y","type":"quantitative"},"text":{"field":"t"}}},
{"data":{"values":[{"t":"N","x":480,"y":1467}]},"mark":{"type":"text","font":"Liberation Serif","fontStyle":"italic","fontSize":90,"align":"center","baseline":"alphabetic"},"encoding":{"x":{"field":"x","type":"quantitative"},"y":{"field":"y","type":"quantitative"},"text":{"field":"t"}}},
{"data":{"values":[{"t":"r","x":1420,"y":1532}]},"mark":{"type":"text","font":"Liberation Serif","fontStyle":"italic","fontSize":84,"align":"center","baseline":"alphabetic"},"encoding":{"x":{"field":"x","type":"quantitative"},"y":{"field":"y","type":"quantitative"},"text":{"field":"t"}}},
{"data":{"values":[{"t":"(mm)","x":1480,"y":1533}]},"mark":{"type":"text","font":"Liberation Serif","fontSize":65,"align":"left","baseline":"alphabetic"},"encoding":{"x":{"field":"x","type":"quantitative"},"y":{"field":"y","type":"quantitative"},"text":{"field":"t"}}},
{"data":{"values":[{"t":"η","x":44,"y":717}]},"mark":{"type":"text","font":"Liberation Serif","fontStyle":"italic","fontSize":76,"align":"center","baseline":"middle","angle":270},"encoding":{"x":{"field":"x","type":"quantitative"},"y":{"field":"y","type":"quantitative"},"text":{"field":"t"}}}
]}
